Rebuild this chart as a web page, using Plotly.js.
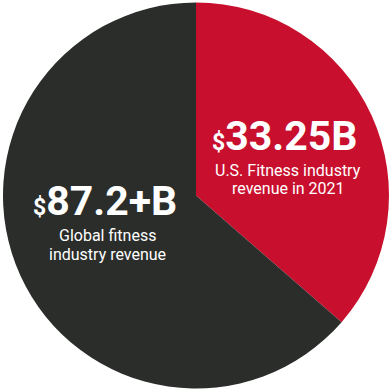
<!DOCTYPE html>
<html>
<head>
<meta charset="utf-8">
<script src="https://cdn.plot.ly/plotly-3.0.1.min.js"></script>
<style>html,body{margin:0;padding:0;background:#fff;}#chart{width:392px;height:392px;}</style>
</head>
<body>
<div id="chart"></div>
<script>
// Slice shares (US slice ≈ 36.4% of the circle)
const sliceLabels = ["U.S. Fitness industry revenue in 2021", "Global fitness industry revenue"];
const sliceShares = [36.4, 63.6];
const sliceColors = ["#c8102e", "#2a2d2a"];
const bigValues = ["33.25B", "87.2+B"];
const subLines = [["U.S. Fitness industry", "revenue in 2021"], ["Global fitness", "industry revenue"]];

const font = "Roboto, 'Noto Sans', sans-serif";

const data = [{
  type: "pie",
  labels: sliceLabels,
  values: sliceShares,
  sort: false,
  direction: "clockwise",
  rotation: 0,
  marker: {colors: sliceColors, line: {width: 0}},
  textinfo: "none",
  hoverinfo: "skip",
  showlegend: false
}];

function big(v){
  return "<b><span style='font-size:23px'>$</span>" + v + "</b>";
}

const annotations = [
  {x: 0.729, y: 0.654, text: big(bigValues[0]), font: {family: font, size: 41, color: "#fff"}},
  {x: 0.7396, y: 0.5646, text: subLines[0][0], font: {family: font, size: 16, color: "#fff"}},
  {x: 0.7396, y: 0.5168, text: subLines[0][1], font: {family: font, size: 16, color: "#fff"}},
  {x: 0.264, y: 0.4858, text: big(bigValues[1]), font: {family: font, size: 41, color: "#fff"}},
  {x: 0.272, y: 0.3966, text: subLines[1][0], font: {family: font, size: 16, color: "#fff"}},
  {x: 0.272, y: 0.3488, text: subLines[1][1], font: {family: font, size: 16, color: "#fff"}}
].map(a => Object.assign({xref: "paper", yref: "paper", showarrow: false, xanchor: "center", yanchor: "middle"}, a));

const layout = {
  width: 392, height: 392,
  margin: {l: 3, r: 3, t: 2, b: 3},
  paper_bgcolor: "#fff",
  plot_bgcolor: "#fff",
  annotations: annotations
};

Plotly.newPlot("chart", data, layout, {displayModeBar: false, staticPlot: true});
</script>
</body>
</html>
